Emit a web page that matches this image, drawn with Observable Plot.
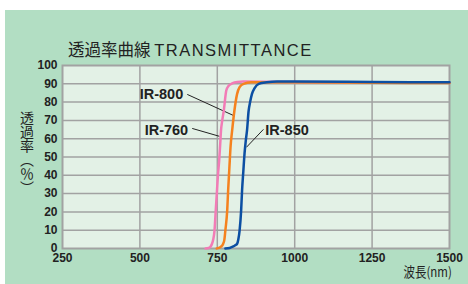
<!DOCTYPE html>
<html><head><meta charset="utf-8">
<script src="https://cdn.jsdelivr.net/npm/d3@7"></script>
<script src="https://cdn.jsdelivr.net/npm/@observablehq/plot@0.6"></script>
<style>
body{margin:0;background:#fff;}
#wrap{position:relative;width:468px;height:284px;overflow:hidden;font-family:"Liberation Sans",Arial,sans-serif;}
#panel{position:absolute;left:5px;top:10px;width:463px;height:274px;background:#b2dec3;}
#chart{position:absolute;left:0;top:0;}
#title{position:absolute;left:68px;top:39px;font-family:"Noto Sans CJK JP",sans-serif;font-size:16.5px;color:#222;line-height:20px;white-space:nowrap;}
#title span{font-family:"Liberation Sans",Arial,sans-serif;letter-spacing:1.5px;}
#ylab{position:absolute;left:19px;top:111px;font-family:"Noto Sans CJK JP",sans-serif;font-size:14px;color:#222;writing-mode:vertical-rl;line-height:16px;}
#xlab{position:absolute;right:16px;top:265px;font-family:"Noto Sans CJK JP",sans-serif;font-size:13.5px;color:#222;white-space:nowrap;transform:scaleX(0.85);transform-origin:right center;line-height:12px;}
</style></head>
<body>
<div id="wrap">
<div id="panel"></div>
<div id="chart"></div>
<div id="title">透過率曲線 <span>TRANSMITTANCE</span></div>
<div id="ylab">透過率（％）</div>
<div id="xlab">波長(nm)</div>
</div>
<script>
const xTicks = [250, 500, 750, 1000, 1250, 1500];
const yTicks = [0, 10, 20, 30, 40, 50, 60, 70, 80, 90, 100];

const ir760Nm  = [712, 722, 728, 733, 737, 741, 745, 749, 752, 756, 759, 762, 766, 771, 779, 786, 798, 815, 834, 900, 1000, 1250, 1500];
const ir760Pct = [0, 0.3, 1, 2.6, 5, 9.8, 20.8, 31.7, 40, 48, 56, 64.5, 70, 75.4, 86.3, 88.8, 90.2, 91, 91.2, 91.1, 91, 90.8, 90.6];

const ir800Nm  = [748, 755, 762, 769, 773, 776, 782, 785, 789, 793, 798, 805, 814, 822, 835, 860, 889, 1000, 1250, 1500];
const ir800Pct = [0, 0.3, 1, 2.6, 5, 9.8, 20.8, 31.7, 44, 56, 64.5, 75, 84.5, 88.2, 90, 90.8, 90.9, 90.8, 90.6, 90.4];

const ir850Nm  = [776, 790, 800, 808, 814, 818, 822, 827, 830, 834, 838, 842, 846, 851, 856, 862, 870, 884, 910, 943, 1000, 1250, 1500];
const ir850Pct = [0, 0.3, 1, 1.8, 2.6, 5, 9.8, 20.8, 31.7, 42, 52, 59, 64.5, 75, 80, 84.5, 87.5, 90, 90.8, 91.2, 91.2, 91, 90.8];

const seriesNames  = ["IR-760", "IR-800", "IR-850"];
const seriesColors = ["#f27cb6", "#f5821f", "#0c4fa3"];

// annotation labels (data coordinates)
const labelText   = ["IR-800", "IR-760", "IR-850"];
const labelX      = [640, 656, 905];
const labelY      = [84.2, 64.5, 64.5];
const labelAnchor = ["end", "end", "start"];
const leaderX1 = [653, 669, 899];
const leaderY1 = [84.2, 65.6, 65.1];
const leaderX2 = [802, 757, 844];
const leaderY2 = [72.7, 61.3, 55.3];

const toRows = (nm, pct, name) => nm.map((x, i) => ({x, y: pct[i], name}));
const rows760 = toRows(ir760Nm, ir760Pct, seriesNames[0]);
const rows800 = toRows(ir800Nm, ir800Pct, seriesNames[1]);
const rows850 = toRows(ir850Nm, ir850Pct, seriesNames[2]);
const labels = labelText.map((t, i) => ({t, x: labelX[i], y: labelY[i], a: labelAnchor[i]}));
const leaders = leaderX1.map((x1, i) => ({x1, y1: leaderY1[i], x2: leaderX2[i], y2: leaderY2[i]}));

const grid = "#a2a2a2";
const labelStyle = {x: "x", y: "y", text: "t", fontSize: 14.5, fontWeight: "bold", fill: "#222"};
const chart = Plot.plot({
  width: 468, height: 284,
  marginLeft: 62, marginRight: 19, marginTop: 65, marginBottom: 36,
  style: {background: "transparent", fontFamily: "'Liberation Sans', Arial, sans-serif", color: "#222"},
  x: {domain: [250, 1500]},
  y: {domain: [0, 100]},
  marks: [
    Plot.frame({fill: "#e3f1e6"}),
    Plot.ruleX(xTicks.slice(1, -1), {stroke: grid, strokeWidth: 1.5}),
    Plot.ruleY(yTicks.slice(1, -1), {stroke: grid, strokeWidth: 1.5}),
    Plot.frame({stroke: grid, strokeWidth: 2}),
    Plot.axisX({ticks: xTicks, tickFormat: d => String(d), tickSize: 0, tickPadding: 5, label: null, fontSize: 12, fontWeight: "bold", fill: "#222"}),
    Plot.axisY({ticks: yTicks, tickFormat: d => String(d), tickSize: 0, tickPadding: 5, label: null, fontSize: 12, fontWeight: "bold", fill: "#222"}),
    Plot.link(leaders, {x1: "x1", y1: "y1", x2: "x2", y2: "y2", stroke: "#222", strokeWidth: 1}),
    Plot.line(rows760, {x: "x", y: "y", stroke: seriesColors[0], strokeWidth: 2.5, curve: "monotone-x"}),
    Plot.line(rows800, {x: "x", y: "y", stroke: seriesColors[1], strokeWidth: 2.5, curve: "monotone-x"}),
    Plot.line(rows850, {x: "x", y: "y", stroke: seriesColors[2], strokeWidth: 2.5, curve: "monotone-x"}),
    Plot.text(labels.filter(d => d.a === "end"), {...labelStyle, textAnchor: "end"}),
    Plot.text(labels.filter(d => d.a === "start"), {...labelStyle, textAnchor: "start"})
  ]
});
document.getElementById("chart").appendChild(chart);
</script>
</body></html>
